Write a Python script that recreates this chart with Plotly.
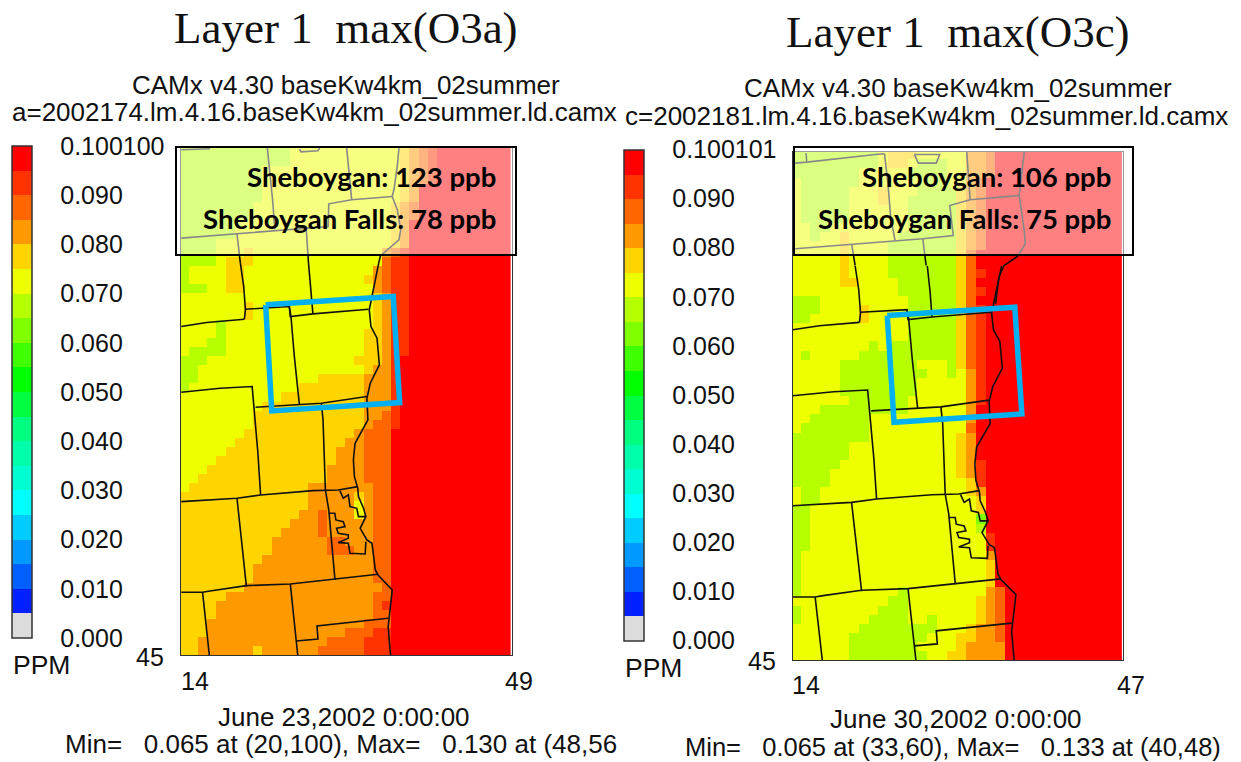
import plotly.graph_objects as go

W, H = 1241, 762

# Colour bar: one colour per 0.005 ppm band, bottom to top
BAND_COLORS = ["#DCDCDC", "#0020FF", "#0060FF", "#0099FF", "#00CCFF", "#00FFFF", "#00FFD0", "#00FFAA",
               "#00FF80", "#00FF40", "#00FF00", "#40FF00", "#80FF00", "#B6FF00", "#EEFF00", "#FFD500",
               "#FF9900", "#FF6600", "#FF3300", "#FF0000"]
TICK_VALUES = [0.0, 0.01, 0.02, 0.03, 0.04, 0.05, 0.06, 0.07, 0.08, 0.09, 0.1]
TICK_TEXT_A = ["0.000", "0.010", "0.020", "0.030", "0.040", "0.050", "0.060", "0.070", "0.080", "0.090", "0.100100"]
TICK_TEXT_C = ["0.000", "0.010", "0.020", "0.030", "0.040", "0.050", "0.060", "0.070", "0.080", "0.090", "0.100101"]

# Ozone band (ppm) of each letter
BAND_PPM = {"r": 0.0975, "q": 0.0925, "o": 0.0875, "a": 0.0825, "g": 0.0775, "y": 0.0725, "l": 0.0675, "m": 0.0625}

# Rows bottom (y=45) to top (y=100): letter + last column (exclusive); the last run fills the row
O3A_ROWS = [
    "g2 a8 g9 a15 o20 q23 r", "g2 a16 o20 q23 r", "g3 a18 o21 q23 r", "g3 a20 o23 r", "g4 a21 o23 r",
    "g4 a21 o22 q23 r", "g5 a21 o23 r", "g7 a22 o23 r", "g8 a21 o23 r", "g8 a21 o23 r",
    "g9 a21 o23 r", "g10 a16 o19 a21 o23 r", "g10 a16 o18 a21 o23 r", "g11 a15 o16 a21 o23 r", "g12 a15 o16 a21 o23 r",
    "g13 a15 o16 a19 y20 a21 o23 r", "g14 a19 y20 a21 o23 r", "g14 a19 g20 a21 o23 r", "y1 g14 a21 o23 r", "y2 g16 a20 o23 r",
    "y3 g16 a20 o23 r", "y4 g17 a20 o23 r", "y5 g17 a20 o23 r", "y6 g18 a20 o23 r", "y7 g19 a20 o23 r",
    "y8 g20 a21 o23 q24 r", "y8 g20 a22 o23 q24 r", "y9 g20 a23 q24 r", "y11 g20 a23 q24 r", "l1 y13 g20 a23 q24 r",
    "l2 y15 g20 a23 q24 r", "l2 y20 g21 a23 q24 r", "l3 y19 g22 a23 q24 r", "y1 l5 y20 g22 a23 q25 r", "y3 l5 y20 g22 a23 q25 r",
    "y4 l5 y20 g22 a23 q25 r", "y4 l5 y21 g22 a23 q25 r", "y7 g8 y21 g22 a23 q25 r", "y7 g8 y21 g22 a23 q25 r", "y21 g22 a23 q25 r",
    "l3 y5 g7 y21 a22 o23 q25 r", "l1 y5 g7 y20 g21 a22 o23 q25 r", "l1 y5 g7 y21 a22 o23 q25 r", "l4 y5 g8 y22 o23 q25 r", "l4 y7 g8 y22 a23 o24 q25 r",
    "l4 y23 g24 a25 r", "l6 y23 g24 a25 r", "l6 y23 g24 a25 r", "l8 y23 g24 a25 o26 r", "l8 y23 g24 a25 o26 r",
    "l9 y24 g25 a26 r", "l9 y24 g25 a26 r", "l9 y24 g25 a26 o27 q28 r", "l9 y24 g25 a26 o27 q28 r", "l12 y24 g25 a26 o27 q28 r",
    "l12 y24 g25 a26 o27 q28 r",
]
O3C_ROWS = [
    "y6 l14 y16 g18 a22 r", "y6 l13 y17 g18 a22 r", "y6 l14 y17 g19 a21 o22 r", "y7 l15 y18 g19 a21 o22 r", "l1 y8 l12 y14 l15 y19 g20 a21 o22 r",
    "l1 y9 l12 y19 g20 a21 o22 r", "y10 l12 y19 g20 a21 o22 r", "l1 y11 l12 y20 a21 o22 r", "l1 y20 g21 r", "l1 y20 g21 r",
    "l1 y20 g21 r", "l1 y20 a21 r", "l2 y20 q21 r", "l2 y20 q21 r", "l2 y19 l20 r",
    "l2 y19 m20 r", "l2 y19 g20 r", "y1 l3 y19 g20 r", "y1 l3 y18 g19 a20 r", "l4 y18 g19 q20 r",
    "l4 y17 g18 a19 q20 r", "l5 y17 g18 a19 q20 r", "l6 y17 g18 a19 r", "l6 y17 g18 a19 r", "l8 y17 g18 a19 r",
    "y1 l8 y18 o19 r", "y2 l8 y18 a19 r", "y3 l12 y18 a19 r", "y6 l12 y18 a19 q20 r", "y5 l13 y18 a19 q20 r",
    "y5 l13 y18 a19 q20 r", "y5 l14 y16 l17 y18 a19 q20 r", "y5 l13 y16 l17 g18 o19 q20 r", "y1 l2 y7 l17 g18 o19 q20 r", "y8 l9 y10 l17 g18 o19 q20 r",
    "y12 l17 g18 o19 q20 r", "y12 l17 g18 o19 q20 r", "l2 y7 g8 y12 l17 g18 o19 q20 r", "l3 y7 g8 y12 l17 g18 o19 q20 r", "l3 y12 l17 g18 o19 r",
    "y11 l17 g18 o19 q20 r", "y5 g7 y11 l17 g18 o19 r", "y5 g6 y10 l17 g18 o19 q20 r", "y5 g6 y10 l17 g18 o19 r", "y5 g6 y10 l17 g18 o19 r",
    "y5 g6 y10 l17 g18 a19 o20 r", "y2 l3 y5 g6 y11 l17 g18 a19 o20 r", "y2 l4 y12 l17 g18 a19 o20 r", "y1 l6 y12 l17 g18 a19 o20 r", "y1 l6 y12 l17 g18 a19 o20 r",
    "y1 l6 y9 g10 y12 l17 g18 a19 o20 r", "y1 l6 y9 g10 y13 l17 g18 a19 o20 r", "y1 l7 y13 l16 y18 a19 o20 r", "l7 y12 l16 y18 a20 o21 r", "l9 y10 g12 y13 l16 y18 a20 o21 r",
    "l9 y10 g13 y18 a20 o21 r",
]

# County lines and coast, in map units (27.24 per grid column, 27.15 per grid row)
COUNTY_SHARED = [
    [(710, 400), (720, 470), (725, 540), (722, 568)],
    [(535, 590), (610, 578), (722, 568)],
    [(725, 538), (855, 530), (858, 560), (925, 552), (1090, 538)],
    [(912, 400), (920, 480), (925, 552)],
    [(855, 530), (860, 560), (870, 680), (885, 825)],
    [(755, 832), (885, 825), (950, 820), (1085, 800)],
    [(535, 787), (650, 775), (745, 770), (750, 830), (755, 870), (762, 970), (770, 1095)],
    [(950, 820), (955, 870), (960, 1020), (962, 1080), (972, 1140), (990, 1345), (993, 1348)],
    [(1120, 400), (1105, 480), (1092, 540), (1097, 590), (1115, 625), (1122, 705), (1095, 760), (1085, 805), (1087, 850),
     (1088, 870), (1050, 940), (1045, 990), (1048, 1040), (1058, 1075), (1060, 1100), (1075, 1135), (1082, 1160),
     (1065, 1195), (1085, 1230), (1100, 1240), (1110, 1320), (1118, 1335), (1160, 1380), (1155, 1430), (1148, 1490), (1155, 1575)],
    [(535, 1115), (700, 1105), (770, 1095), (925, 1082), (1000, 1080), (1058, 1070)],
    [(700, 1105), (728, 1370)],
    [(535, 1387), (598, 1387), (620, 1383), (728, 1367), (858, 1362), (993, 1348), (1118, 1333)],
    [(598, 1387), (610, 1490), (618, 1575)],
    [(858, 1362), (875, 1530), (880, 1575)],
    [(875, 1533), (940, 1527), (937, 1488), (1148, 1465)],
    [(1005, 1082), (1015, 1105), (1030, 1095), (1035, 1130), (1055, 1135), (1060, 1160), (1082, 1160)],
    [(972, 1150), (990, 1150), (993, 1170), (1015, 1175), (1020, 1190), (995, 1195), (1000, 1210), (1030, 1215),
     (1030, 1225), (1000, 1238), (1030, 1240), (1035, 1270), (1080, 1272), (1082, 1235)],
]
COUNTY_TOP_A = [
    [(535, 60), (620, 57)],
    [(790, 55), (800, 150), (806, 215), (812, 298)],
    [(885, 58), (890, 66), (940, 63), (945, 55)],
    [(1025, 55), (1030, 110), (1040, 210)],
    [(1180, 55), (1175, 110), (1165, 180), (1160, 200), (1175, 240), (1185, 300), (1180, 330), (1150, 355), (1125, 378), (1120, 400)],
    [(535, 325), (700, 312), (905, 296), (970, 290), (972, 222), (1040, 210), (1160, 200)],
    [(700, 312), (707, 378), (710, 400)],
    [(905, 296), (910, 378), (912, 400)],
]
# Same units for panel c, but 28.77 per column and 27.3 per row
COUNTY_TOP_C = [
    [(548, 98), (582, 95), (785, 72), (812, 70)],
    [(580, 68), (582, 95)],
    [(900, 72), (912, 98), (965, 98), (975, 72), (900, 72)],
    [(812, 70), (823, 170), (830, 260), (843, 330)],
    [(1055, 65), (1065, 208)],
    [(1225, 65), (1210, 195), (1225, 300), (1228, 340), (1205, 378), (1165, 405), (1150, 440), (1140, 520)],
    [(548, 355), (715, 342), (843, 330), (925, 325), (1015, 315), (1005, 225), (1065, 208), (1210, 195)],
    [(715, 342), (722, 378), (725, 405)],
    [(925, 325), (932, 378), (935, 405)],
]
SITE_BOX_A = [(785, 525), (1163, 500), (1182, 818), (803, 843), (785, 525)]
SITE_BOX_C = [(820, 555), (1197, 530), (1218, 850), (840, 875), (820, 555)]


def decode(rows):
    out = []
    for row in rows:
        cells = []
        for run in row.split():
            end = int(run[1:]) if len(run) > 1 else 36
            cells += [BAND_PPM[run[0]]] * (end - len(cells))
        out.append(cells)
    return out


def grid_a(p):
    return 13.5 + (p[0] - 530) / 27.24, 44.5 + (1575 - p[1]) / 27.15


def grid_c(p):
    return 13.5 + (p[0] - 535) / 28.77, 44.5 + (1588 - p[1]) / 27.3


def polyline(lines, conv):
    xs, ys = [], []
    for line in lines:
        for p in line:
            x, y = conv(p)
            xs.append(x)
            ys.append(y)
        xs.append(None)
        ys.append(None)
    return xs, ys


SCALE = []
for i, c in enumerate(BAND_COLORS):
    SCALE += [[i / 20, c], [(i + 1) / 20, c]]


def colorbar(left, top, height, labels):
    return dict(x=left / W, xanchor="left", xpad=0, y=1 - top / H, yanchor="top", ypad=0,
                thickness=20, thicknessmode="pixels", len=height, lenmode="pixels",
                outlinecolor="#333333", outlinewidth=1.5, borderwidth=0,
                tickmode="array", tickvals=TICK_VALUES, ticktext=labels, ticks="outside", ticklen=23,
                tickcolor="rgba(0,0,0,0)", tickfont=dict(family="Liberation Sans", size=25, color="#111111"))


def ax(left, right, lo, hi, anchor, horizontal=True):
    if horizontal:
        dom = [left / W, right / W]
    else:
        dom = [1 - right / H, 1 - left / H]
    return dict(domain=dom, range=[lo, hi], anchor=anchor, showgrid=False, zeroline=False, showticklabels=False,
                ticks="", showline=True, mirror=True, linecolor="#333333", linewidth=1)


fig = go.Figure()
PANELS = [
    ("x", "y", "coloraxis", O3A_ROWS, 36, COUNTY_TOP_A, grid_a, SITE_BOX_A),
    ("x2", "y2", "coloraxis2", O3C_ROWS, 34, COUNTY_TOP_C, grid_c, SITE_BOX_C),
]
for xa, ya, ca, rows, ncol, top, conv, site in PANELS:
    z = [r[:ncol] for r in decode(rows)]
    fig.add_trace(go.Heatmap(z=z, x=[14 + i for i in range(ncol)], y=[45 + i for i in range(56)],
                             xaxis=xa, yaxis=ya, coloraxis=ca, hoverinfo="skip"))
    xs, ys = polyline(COUNTY_SHARED, grid_a)
    xt, yt = polyline(top, conv)
    fig.add_trace(go.Scatter(x=xs + xt, y=ys + yt, mode="lines", xaxis=xa, yaxis=ya, hoverinfo="skip",
                             showlegend=False, line=dict(color="#111111", width=1.6)))
    xb, yb = polyline([site], conv)
    fig.add_trace(go.Scatter(x=xb, y=yb, mode="lines", xaxis=xa, yaxis=ya, hoverinfo="skip",
                             showlegend=False, line=dict(color="#00B0F0", width=5.5)))


def label(x, y, text, size=25, anchor="left", family="Liberation Sans", color="#111111"):
    return dict(x=x / W, y=1 - y / H, xref="paper", yref="paper", text=text, showarrow=False, xanchor=anchor,
                yanchor="middle", align=anchor, font=dict(family=family, size=size, color=color), borderpad=0, borderwidth=0)


TEXTS = [
    label(346, 28, "Layer 1\u00a0\u00a0max(O3a)", 45, "center", "Liberation Serif"),
    label(958, 32, "Layer 1\u00a0\u00a0max(O3c)", 45, "center", "Liberation Serif"),
    label(346, 85, "CAMx v4.30 baseKw4km_02summer", 26, "center"),
    label(958, 88, "CAMx v4.30 baseKw4km_02summer", 26, "center"),
    label(12, 112, "a=2002174.lm.4.16.baseKw4km_02summer.ld.camx", 26),
    label(625, 116, "c=2002181.lm.4.16.baseKw4km_02summer.ld.camx", 26),
    label(13, 665, "PPM", 26.5), label(625, 668, "PPM", 26.5),
    label(136, 657, "45", 25), label(748, 661, "45", 25),
    label(181, 681, "14", 25), label(505, 681, "49", 25),
    label(792, 685, "14", 25), label(1117, 685, "47", 25),
    label(344, 717, "June 23,2002 0:00:00", 26, "center"),
    label(956, 719, "June 30,2002 0:00:00", 26, "center"),
    label(65, 744, "Min=\u00a0\u00a0\u00a00.065 at (20,100), Max=\u00a0\u00a0\u00a00.130 at (48,56", 26),
    label(685, 747, "Min=\u00a0\u00a0\u00a00.065 at (33,60), Max=\u00a0\u00a0\u00a00.133 at (40,48)", 25.5),
    label(496, 176, "<b>Sheboygan: 123 ppb</b>", 27.5, "right", "Lato", "#000000"),
    label(496, 218, "<b>Sheboygan Falls: 78 ppb</b>", 27.5, "right", "Lato", "#000000"),
    label(1111, 176, "<b>Sheboygan: 106 ppb</b>", 27.5, "right", "Lato", "#000000"),
    label(1111, 218, "<b>Sheboygan Falls: 75 ppb</b>", 27.5, "right", "Lato", "#000000"),
]


def note_box(x0, x1, y0, y1):
    return dict(type="rect", xref="paper", yref="paper", x0=x0 / W, x1=x1 / W, y0=1 - y1 / H, y1=1 - y0 / H,
                fillcolor="rgba(255,255,255,0.5)", line=dict(color="#000000", width=2), layer="above")


fig.update_layout(
    width=W, height=H, margin=dict(l=0, r=0, t=0, b=0), paper_bgcolor="white", plot_bgcolor="white",
    showlegend=False,
    xaxis=ax(181, 512, 13.65, 49.66, "y"), yaxis=ax(148, 655, 44.5, 100.5, "x", False),
    xaxis2=ax(792.5, 1123, 13.67, 47.63, "y2"), yaxis2=ax(152, 660, 44.5, 100.3, "x2", False),
    coloraxis=dict(colorscale=SCALE, cmin=0, cmax=0.1, colorbar=colorbar(11.5, 146, 492, TICK_TEXT_A)),
    coloraxis2=dict(colorscale=SCALE, cmin=0, cmax=0.1, colorbar=colorbar(624, 149.5, 491, TICK_TEXT_C)),
    annotations=TEXTS,
    shapes=[note_box(176, 516, 147, 255), note_box(794, 1133, 147, 255)],
)
fig.write_html("out.html", config=dict(displayModeBar=False), post_script="document.body.style.margin='0';")
